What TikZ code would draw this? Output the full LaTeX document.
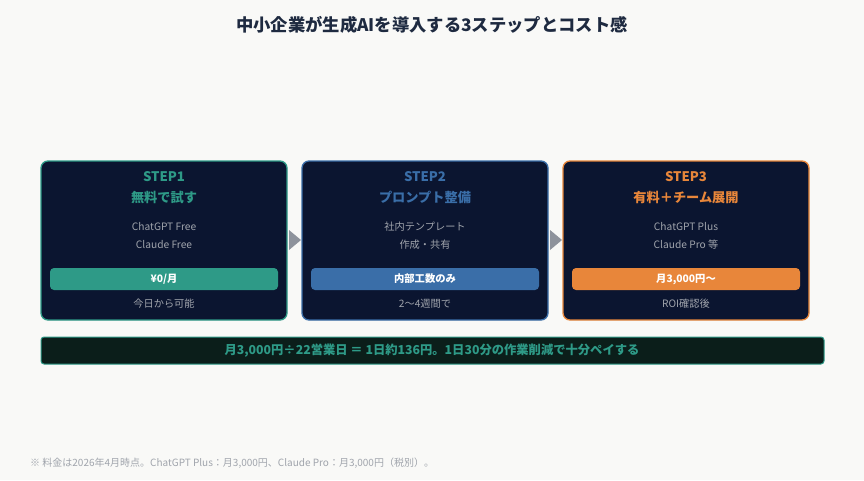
\documentclass[tikz,border=0pt]{standalone}
\usepackage{fontspec}
\setmainfont{Noto Sans CJK JP}
\usetikzlibrary{shapes.geometric}
\definecolor{bg}{HTML}{F9F9F7}
\definecolor{navy}{HTML}{0B1530}
\definecolor{teal}{HTML}{2E9A87}
\definecolor{blu}{HTML}{3A6EA8}
\definecolor{ora}{HTML}{E8863A}
\definecolor{gtxt}{HTML}{A0A4AC}
\definecolor{ttl}{HTML}{1E2A40}
\definecolor{barbg}{HTML}{0B1E1A}
\definecolor{arr}{HTML}{8E939C}
\begin{document}
\begin{tikzpicture}[x=1pt,y=-1pt,
  card/.style={draw=#1,line width=1.3pt,fill=navy,rounded corners=7pt},
  pill/.style={fill=#1,rounded corners=4pt},
  head/.style={text=#1,font=\bfseries\fontsize{13.2}{15}\selectfont},
  small/.style={text=gtxt,font=\fontsize{10.2}{12}\selectfont},
  pilltxt/.style={text=white,font=\bfseries\fontsize{10.3}{12}\selectfont}]
\fill[bg] (0,0) rectangle (864,480);
\node[text=ttl,font=\bfseries\fontsize{17.3}{19}\selectfont] (title) at (432,25) {中小企業が生成AIを導入する3ステップとコスト感};
\foreach \x/\c/\n in {41/teal/1,302/blu/2,563/ora/3}{
  \draw[card=\c] (\x,161) rectangle ++(246,159);
  \fill[pill=\c] (\x+9,268) rectangle ++(228,22);
}
\foreach \x in {289,550}{
  \fill[arr] (\x,230) -- (\x+12,240) -- (\x,250) -- cycle;
}
\node[head=teal] (s1) at (164,177) {STEP1};
\node[head=teal] (t1) at (164,197) {無料で試す};
\node[small] (a1) at (164,227) {ChatGPT Free};
\node[small] (b1) at (164,245) {Claude Free};
\node[pilltxt] (p1) at (164,279) {¥0/月};
\node[small] (c1) at (164,304) {今日から可能};
\node[head=blu] (s2) at (425,177) {STEP2};
\node[head=blu] (t2) at (425,197) {プロンプト整備};
\node[small] (a2) at (425,227) {社内テンプレート};
\node[small] (b2) at (425,245) {作成・共有};
\node[pilltxt] (p2) at (425,279) {内部工数のみ};
\node[small] (c2) at (425,304) {2〜4週間で};
\node[head=ora] (s3) at (686,177) {STEP3};
\node[head=ora] (t3) at (686,197) {有料＋チーム展開};
\node[small] (a3) at (686,227) {ChatGPT Plus};
\node[small] (b3) at (686,245) {Claude Pro 等};
\node[pilltxt] (p3) at (686,279) {月3,000円〜};
\node[small] (c3) at (686,304) {ROI確認後};
\draw[draw=teal,line width=1pt,fill=barbg,rounded corners=3pt] (41,337) rectangle (824,364);
\node[text=teal,font=\bfseries\fontsize{12.3}{14}\selectfont] (bar) at (432,350.5) {月3,000円÷22営業日 ＝ 1日約136円。1日30分の作業削減で十分ペイする};
\node[anchor=west,text=gtxt,font=\fontsize{10}{12}\selectfont,inner sep=0pt] (note) at (30,463) {※ 料金は2026年4月時点。ChatGPT Plus：月3,000円、Claude Pro：月3,000円（税別）。};
\end{tikzpicture}
\end{document}
